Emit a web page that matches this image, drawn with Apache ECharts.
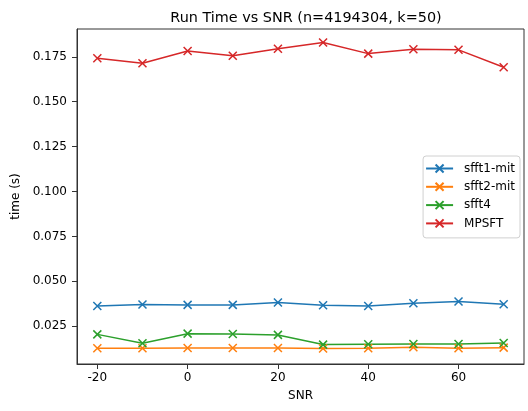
<!DOCTYPE html>
<html><head><meta charset="utf-8">
<script src="https://cdn.jsdelivr.net/npm/echarts@6/dist/echarts.min.js"></script>
<style>html,body{margin:0;padding:0;background:#fff}#c{width:528px;height:411px}</style>
</head><body><div id="c"></div>
<script>
const snr = [-20, -10, 0, 10, 20, 30, 40, 50, 60, 70];
const sfft1mit = [0.0363, 0.0371, 0.0369, 0.0369, 0.0382, 0.0367, 0.0363, 0.0378, 0.0388, 0.0373];
const sfft2mit = [0.0128, 0.0128, 0.0129, 0.0129, 0.0129, 0.0126, 0.0128, 0.0133, 0.0128, 0.0131];
const sfft4 = [0.0205, 0.0155, 0.0209, 0.0207, 0.0202, 0.0148, 0.0150, 0.0151, 0.0151, 0.0157];
const mpsft = [0.1742, 0.1714, 0.1783, 0.1756, 0.1795, 0.1830, 0.1768, 0.1792, 0.1789, 0.1692];
const xTicks = [-20, 0, 20, 40, 60];
const yTicks = [0.025, 0.050, 0.075, 0.100, 0.125, 0.150, 0.175];
const names = ['sfft1-mit', 'sfft2-mit', 'sfft4', 'MPSFT'];
const colors = ['#1f77b4', '#ff7f0e', '#2ca02c', '#d62728'];
const seriesData = [sfft1mit, sfft2mit, sfft4, mpsft];

const font = 'DejaVu Sans';
const xMark = 'path://M0,0L10,10M10,0L0,10';
const chart = echarts.init(document.getElementById('c'), null, {renderer: 'canvas'});
chart.setOption({
  animation: false,
  backgroundColor: '#fff',
  title: {
    text: 'Run Time vs SNR (n=4194304, k=50)',
    left: 301, top: 6, textAlign: 'center',
    textStyle: {fontFamily: font, fontSize: 14.4, fontWeight: 'normal', color: '#000'}
  },
  grid: {left: 77, right: 4, top: 29, bottom: 47, containLabel: false, show: true, borderColor: '#333', borderWidth: 1},
  legend: {
    orient: 'vertical', right: 8, top: 156,
    data: names,
    itemWidth: 27, itemHeight: 10, itemGap: 5.3,
    padding: [6, 5, 8, 2],
    borderColor: '#d0d0d0', borderWidth: 1, borderRadius: 3,
    backgroundColor: 'rgba(255,255,255,0.8)',
    textStyle: {fontFamily: font, fontSize: 12, color: '#000', padding: [0, 0, 0, 6]}
  },
  xAxis: {
    type: 'value', min: -24.5, max: 74.5,
    name: 'SNR', nameLocation: 'middle', nameGap: 26,
    nameTextStyle: {fontFamily: font, fontSize: 12, color: '#000'},
    axisLine: {show: true, onZero: false, lineStyle: {color: '#333', width: 1}},
    axisTick: {show: true, length: 5, customValues: xTicks, lineStyle: {color: '#333'}},
    axisLabel: {customValues: xTicks, fontFamily: font, fontSize: 12, color: '#000', margin: 8,
      formatter: v => String(v)},
    splitLine: {show: false}
  },
  yAxis: {
    type: 'value', min: 0.004, max: 0.1905,
    name: 'time (s)', nameLocation: 'middle', nameGap: 51, nameRotate: 90,
    nameTextStyle: {fontFamily: font, fontSize: 12, color: '#000'},
    axisLine: {show: true, onZero: false, lineStyle: {color: '#333', width: 1}},
    axisTick: {show: true, length: 5, customValues: yTicks, lineStyle: {color: '#333'}},
    axisLabel: {customValues: yTicks, fontFamily: font, fontSize: 12, color: '#000', margin: 10,
      formatter: v => v.toFixed(3)},
    splitLine: {show: false}
  },
  series: names.map((n, i) => ({
    name: n, type: 'line',
    data: snr.map((x, j) => [x, seriesData[i][j]]),
    symbol: xMark, symbolSize: 8, showSymbol: true,
    lineStyle: {color: colors[i], width: 1.5},
    itemStyle: {color: 'none', borderColor: colors[i], borderWidth: 1.5},
    emphasis: {disabled: true}
  }))
});
</script></body></html>
